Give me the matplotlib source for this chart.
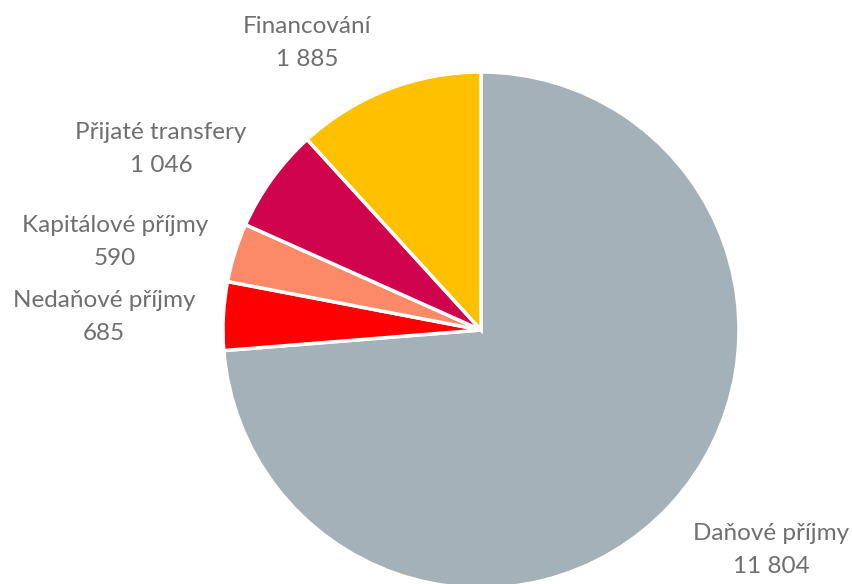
import matplotlib
matplotlib.use('Agg')
import matplotlib.pyplot as plt

labels = ['Daňové příjmy', 'Nedaňové příjmy', 'Kapitálové příjmy', 'Přijaté transfery', 'Financování']
values = [11804, 685, 590, 1046, 1885]
colors = ['#A5B1B8', '#FF0000', '#FC8A68', '#D0044C', '#FFC000']

# label centres in pixels (x, y from top) for the two-line labels
label_pos = [(771, 550), (104, 317), (115, 242), (161, 149), (307, 43)]

W, H = 853, 584
cx, cy, r = 481, 330, 258

plt.rcParams['font.family'] = ['Lato', 'DejaVu Sans']

fig = plt.figure(figsize=(W / 100, H / 100), dpi=100)
ax = fig.add_axes([(cx - r) / W, (H - cy - r) / H, 2 * r / W, 2 * r / H])
ax.pie(values, colors=colors, startangle=90, counterclock=False,
       wedgeprops=dict(edgecolor='white', linewidth=2.5))
ax.set_xlim(-1, 1)
ax.set_ylim(-1, 1)
ax.set_aspect('equal')
ax.axis('off')


def fmt(v):
    return f'{v:,}'.replace(',', ' ')


for lab, v, (px, py) in zip(labels, values, label_pos):
    fig.text(px / W, 1 - py / H, f'{lab}\n{fmt(v)}', ha='center', va='center',
             fontsize=17.5, color='#6F6F6F', linespacing=1.65)

fig.savefig('out.png', dpi=100)
